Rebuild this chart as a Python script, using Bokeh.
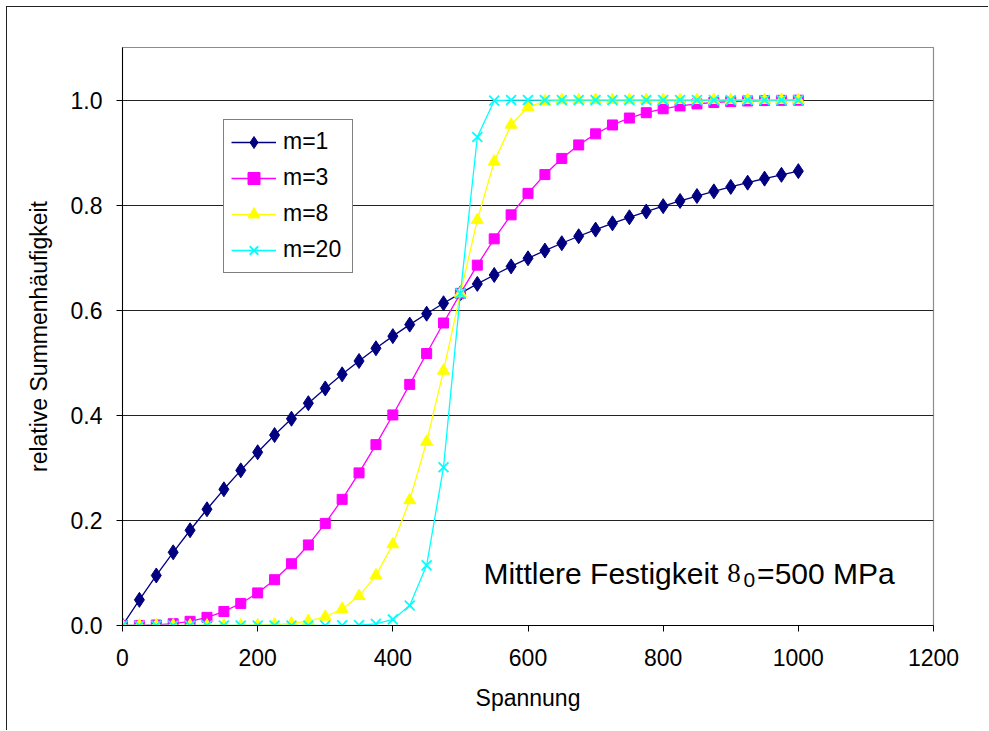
from bokeh.plotting import figure
from bokeh.models import (FixedTicker, PrintfTickFormatter, Label, Legend, LegendItem)
from bokeh.embed import file_html
from bokeh.resources import INLINE

spannung = [0, 25, 50, 75, 100, 125, 150, 175, 200, 225, 250, 275, 300, 325, 350, 375, 400,
            425, 450, 475, 500, 525, 550, 575, 600, 625, 650, 675, 700, 725, 750, 775, 800,
            825, 850, 875, 900, 925, 950, 975, 1000]

m1 = [0.0, 0.0488, 0.0952, 0.1393, 0.1813, 0.2212, 0.2592, 0.2953, 0.3297, 0.3624, 0.3935,
      0.4231, 0.4512, 0.4780, 0.5034, 0.5276, 0.5507, 0.5726, 0.5934, 0.6133, 0.6321,
      0.6501, 0.6671, 0.6834, 0.6988, 0.7135, 0.7275, 0.7408, 0.7534, 0.7654, 0.7769,
      0.7878, 0.7981, 0.8080, 0.8173, 0.8262, 0.8347, 0.8428, 0.8504, 0.8577, 0.8647]

m3 = [0.0, 0.0001, 0.0010, 0.0034, 0.0080, 0.0155, 0.0266, 0.0420, 0.0620, 0.0871, 0.1175,
      0.1533, 0.1943, 0.2401, 0.2904, 0.3442, 0.4007, 0.4589, 0.5176, 0.5757, 0.6321,
      0.6858, 0.7358, 0.7815, 0.8224, 0.8582, 0.8889, 0.9146, 0.9357, 0.9526, 0.9658,
      0.9759, 0.9834, 0.9888, 0.9927, 0.9953, 0.9971, 0.9982, 0.9990, 0.9994, 0.9997]

m8 = [0.0, 0.0, 0.0, 0.0, 0.0, 0.0, 0.0001, 0.0002, 0.0007, 0.0017, 0.0039,
      0.0084, 0.0166, 0.0314, 0.0560, 0.0953, 0.1545, 0.2385, 0.3498, 0.4849, 0.6321,
      0.7718, 0.8828, 0.9531, 0.9864, 0.9974, 0.9997, 1.0, 1.0, 1.0, 1.0,
      1.0, 1.0, 1.0, 1.0, 1.0, 1.0, 1.0, 1.0, 1.0, 1.0]

m20 = [0.0, 0.0, 0.0, 0.0, 0.0, 0.0, 0.0, 0.0, 0.0, 0.0, 0.0,
       0.0, 0.0, 0.0002, 0.0008, 0.0032, 0.0115, 0.0380, 0.1145, 0.3012, 0.6321,
       0.9296, 0.9988, 1.0, 1.0, 1.0, 1.0, 1.0, 1.0, 1.0, 1.0,
       1.0, 1.0, 1.0, 1.0, 1.0, 1.0, 1.0, 1.0, 1.0, 1.0]

x_ticks = [0, 200, 400, 600, 800, 1000, 1200]
y_ticks = [0.0, 0.2, 0.4, 0.6, 0.8, 1.0]

FONT = "Liberation Sans"

p = figure(width=982, height=724, output_backend="svg", toolbar_location=None,
           x_range=(0, 1200), y_range=(0, 1.1),
           min_border_left=115, min_border_right=56, min_border_top=40, min_border_bottom=106)
p.styles = {"border-left": "1.5px solid #222", "border-top": "1.5px solid #222",
            "margin-left": "6px", "margin-top": "5.5px"}
p.background_fill_color = "white"
p.border_fill_color = "white"
p.outline_line_color = "#8c8c8c"
p.outline_line_width = 1.2

for ax in (p.xaxis[0], p.yaxis[0]):
    ax.axis_line_color = "black"
    ax.axis_line_width = 1
    ax.major_tick_line_color = "black"
    ax.major_tick_in = 0
    ax.major_tick_out = 6
    ax.minor_tick_line_color = None
    ax.major_label_text_font = FONT
    ax.major_label_text_font_size = "23px"
    ax.major_label_text_color = "black"
    ax.axis_label_text_font = FONT
    ax.axis_label_text_font_size = "23px"
    ax.axis_label_text_font_style = "normal"
    ax.axis_label_text_color = "black"

p.xaxis.ticker = FixedTicker(ticks=x_ticks)
p.yaxis.ticker = FixedTicker(ticks=y_ticks)
p.yaxis.formatter = PrintfTickFormatter(format="%.1f")
p.xaxis.axis_label = "Spannung"
p.yaxis.axis_label = "relative Summenhäufigkeit"
p.xaxis.major_label_standoff = 17
p.yaxis.major_label_standoff = 14
p.xaxis.axis_label_standoff = 16
p.yaxis.axis_label_standoff = 16

p.xgrid.grid_line_color = None
p.ygrid.grid_line_color = "#222222"
p.ygrid.grid_line_width = 1

series = [
    ("m=1", m1, "#000080", "diamond", 15),
    ("m=3", m3, "#FF00FF", "square", 10),
    ("m=8", m8, "#FFFF00", "triangle", 12),
    ("m=20", m20, "#00FFFF", "x", 14),
]

items = []
for name, ys, col, mk, sz in series:
    l = p.line(spannung, ys, line_color=col, line_width=1.3)
    s = p.scatter(spannung, ys, marker=mk, size=sz, line_color=col, fill_color=col,
                  line_width=1.8 if mk == "x" else 1)
    items.append(LegendItem(label=name, renderers=[l, s]))

legend = Legend(items=items, location=(101, 352))
legend.border_line_color = "black"
legend.border_line_width = 1
legend.background_fill_color = "white"
legend.background_fill_alpha = 1
legend.label_text_font = FONT
legend.label_text_font_size = "23px"
legend.label_text_color = "black"
legend.glyph_width = 45
legend.glyph_height = 30
legend.label_height = 24
legend.label_width = 62
legend.label_standoff = 7
legend.spacing = 6
legend.padding = 7
legend.margin = 0
p.add_layout(legend, "center")

p.add_layout(Label(x=534, y=0.099, text="Mittlere Festigkeit", text_font=FONT,
                   text_font_size="30px", text_color="black", text_baseline="alphabetic"))
p.add_layout(Label(x=895, y=0.099, text="8", text_font="Liberation Serif",
                   text_font_size="27px", text_color="black", text_baseline="alphabetic"))
p.add_layout(Label(x=919, y=0.086, text="0", text_font=FONT,
                   text_font_size="21px", text_color="black", text_baseline="alphabetic"))
p.add_layout(Label(x=939, y=0.099, text="=500 MPa", text_font=FONT,
                   text_font_size="30px", text_color="black", text_baseline="alphabetic"))

open("out.html", "w").write(file_html(p, INLINE))
